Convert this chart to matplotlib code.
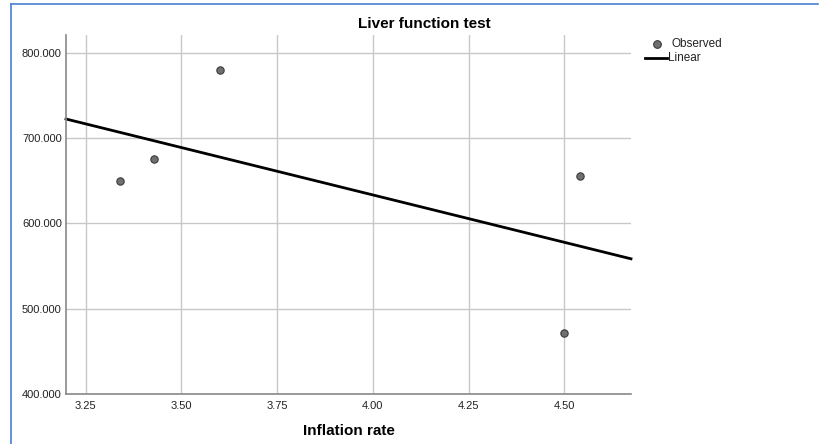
import matplotlib.pyplot as plt
import numpy as np
from matplotlib.lines import Line2D

inflation = [3.34, 3.43, 3.60, 4.50, 4.54]
liver = [650.0, 675.0, 780.0, 472.0, 655.0]
x_ticks = [3.25, 3.50, 3.75, 4.00, 4.25, 4.50]
y_ticks = [400, 500, 600, 700, 800]

W, H = 824, 444
fig = plt.figure(figsize=(W / 100, H / 100), dpi=100)
plt.rcParams['font.family'] = ['Liberation Sans', 'DejaVu Sans']

# plot area in pixels: left 66, right 631, top 35, bottom 394
ax = fig.add_axes([66 / W, 1 - 394 / H, (631 - 66) / W, (394 - 35) / H])
ax.set_xlim(3.199, 4.674)
ax.set_ylim(400, 820.7)

grid_c = '#c8c8c8'
for xt in x_ticks:
    ax.axvline(xt, color=grid_c, lw=1.0, zorder=0)
for yt in y_ticks[1:]:
    ax.axhline(yt, color=grid_c, lw=1.0, zorder=0)

# linear fit through observed points
slope, icpt = np.polyfit(inflation, liver, 1)
xl = np.array(ax.get_xlim())
ax.plot(xl, slope * xl + icpt, color='black', lw=2.0, zorder=2, clip_on=False)

ax.scatter(inflation, liver, s=28, color='#707070', edgecolor='#3a3a3a',
           linewidth=0.8, zorder=3)

for side in ('top', 'right'):
    ax.spines[side].set_visible(False)
for side in ('left', 'bottom'):
    ax.spines[side].set_color('#888888')
    ax.spines[side].set_linewidth(1.2)

ax.set_xticks(x_ticks)
ax.set_xticklabels([f'{v:.2f}' for v in x_ticks])
ax.set_yticks(y_ticks)
ax.set_yticklabels([f'{v:.3f}' for v in y_ticks])
ax.tick_params(length=0, labelsize=8, colors='#222222')
ax.tick_params(axis='y', pad=3)
ax.tick_params(axis='x', pad=5)

fig.text(424 / W, 1 - 24 / H, 'Liver function test', ha='center', va='center',
         fontsize=11, fontweight='bold')
fig.text(349 / W, 1 - 431 / H, 'Inflation rate', ha='center', va='center',
         fontsize=11, fontweight='bold')

# legend drawn by hand at its place
fig.add_artist(Line2D([657 / W], [1 - 44 / H], marker='o', markersize=5.5,
                      color='#707070', markeredgecolor='#3a3a3a', markeredgewidth=0.8,
                      transform=fig.transFigure))
fig.text(672 / W, 1 - 44 / H, 'Observed', ha='left', va='center', fontsize=8.5,
         color='#222222')
fig.add_artist(Line2D([645 / W, 667 / W], [1 - 58 / H, 1 - 58 / H], color='black',
                      lw=2.0, transform=fig.transFigure))
fig.text(668 / W, 1 - 58 / H, 'Linear', ha='left', va='center', fontsize=8.5,
         color='#222222')

# blue frame edges (top and left)
fig.add_artist(Line2D([10.5 / W, 818 / W], [1 - 4.5 / H, 1 - 4.5 / H],
                      color='#4a7fd6', lw=1.2, transform=fig.transFigure))
fig.add_artist(Line2D([10.5 / W, 10.5 / W], [1 - 4.5 / H, 0], color='#4a7fd6',
                      lw=1.2, transform=fig.transFigure))

fig.savefig('out.png', dpi=100)
